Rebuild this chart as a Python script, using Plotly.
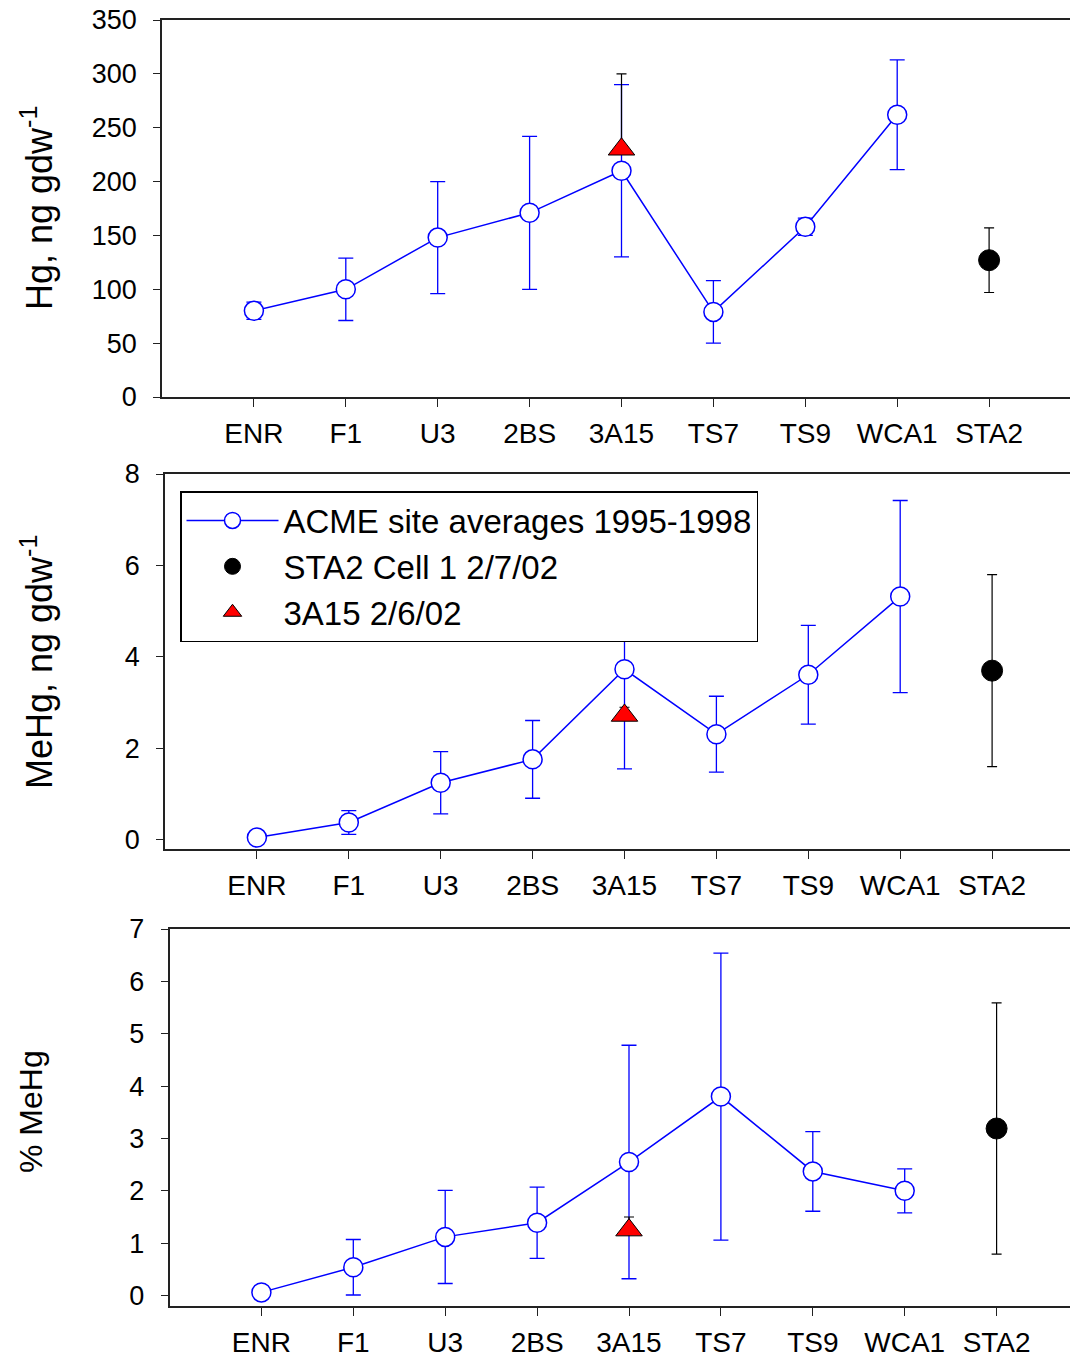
import plotly.graph_objects as go

# ---------------- data ----------------
sites = ["ENR", "F1", "U3", "2BS", "3A15", "TS7", "TS9", "WCA1", "STA2"]
acme_sites = sites[:8]

hg_acme = [80, 100, 148, 171, 210, 79, 158, 262]
hg_acme_err = [8, 29, 52, 71, 80, 29, 8, 51]
hg_sta2 = [127]
hg_sta2_err = [30]
hg_3a15 = [230]
hg_3a15_err_up = [70]

mehg_acme = [0.05, 0.38, 1.25, 1.76, 3.73, 2.31, 3.61, 5.32]
mehg_acme_err = [0.05, 0.26, 0.68, 0.85, 2.18, 0.83, 1.08, 2.10]
mehg_sta2 = [3.70]
mehg_sta2_err = [2.10]
mehg_3a15 = [2.72]
mehg_3a15_err_up = [0.18]

pct_acme = [0.06, 0.54, 1.12, 1.39, 2.55, 3.80, 2.37, 2.00]
pct_acme_err = [0.03, 0.53, 0.89, 0.68, 2.23, 2.74, 0.76, 0.42]
pct_sta2 = [3.19]
pct_sta2_err = [2.40]
pct_3a15 = [1.25]
pct_3a15_err_up = [0.25]

y_titles = ["Hg, ng gdw<sup>-1</sup>", "MeHg, ng gdw<sup>-1</sup>", "% MeHg"]
legend_names = ["ACME site averages 1995-1998", "STA2 Cell 1 2/7/02", "3A15 2/6/02"]

# ---------------- layout constants ----------------
W, H = 1078, 1360
OFF = 8  # page body margin offset compensation
FONT = "Liberation Sans, Arial, sans-serif"
BLUE = "#0000FF"

idx = {s: i + 1 for i, s in enumerate(sites)}
x_acme = [idx[s] for s in acme_sites]
x_sta2 = [idx["STA2"]]
x_3a15 = [idx["3A15"]]

panels = [
    dict(data=(hg_acme, hg_acme_err, hg_sta2, hg_sta2_err, hg_3a15, hg_3a15_err_up),
         left=162, top=20, bottom=397, yr=[0, 350], tickvals=list(range(0, 351, 50)),
         title_x=37, title_y=208, title_size=36),
    dict(data=(mehg_acme, mehg_acme_err, mehg_sta2, mehg_sta2_err, mehg_3a15, mehg_3a15_err_up),
         left=165, top=474, bottom=849, yr=[-0.2, 8], tickvals=[0, 2, 4, 6, 8],
         title_x=37, title_y=662, title_size=36),
    dict(data=(pct_acme, pct_acme_err, pct_sta2, pct_sta2_err, pct_3a15, pct_3a15_err_up),
         left=169.5, top=929, bottom=1306, yr=[-0.2, 7], tickvals=list(range(0, 8)),
         title_x=31, title_y=1112, title_size=32),
]
SPACING = 91.9

fig = go.Figure()
layout = dict(
    width=W, height=H,
    margin=dict(l=0, r=0, t=0, b=0, pad=0, autoexpand=False),
    paper_bgcolor="white", plot_bgcolor="white",
    font=dict(family=FONT, color="black"),
    showlegend=True,
    legend=dict(
        x=(180 - OFF) / W, y=1 - (491 - OFF) / H, xanchor="left", yanchor="top",
        bordercolor="black", borderwidth=1.5, bgcolor="white",
        font=dict(size=33, family=FONT, color="black"),
        itemwidth=92, tracegroupgap=0,
    ),
    annotations=[],
)

for k, p in enumerate(panels):
    n = "" if k == 0 else str(k + 1)
    xa, ya = "x" + n, "y" + n
    acme, acme_err, sta, sta_err, tri, tri_err_up = p["data"]
    left = p["left"] - OFF
    xr_max = (W - left) / SPACING
    show = (k == 1)

    fig.add_trace(go.Scatter(
        x=x_acme, y=acme, xaxis=xa, yaxis=ya, mode="lines+markers",
        name=legend_names[0], showlegend=show, legendrank=1,
        line=dict(color=BLUE, width=1.5),
        marker=dict(symbol="circle", size=19, color="white", line=dict(color=BLUE, width=1.5)),
        error_y=dict(type="data", array=acme_err, visible=True, color=BLUE, thickness=1.3, width=7.5),
    ))
    fig.add_trace(go.Scatter(
        x=x_sta2, y=sta, xaxis=xa, yaxis=ya, mode="markers",
        name=legend_names[1], showlegend=show, legendrank=2,
        marker=dict(symbol="circle", size=21, color="black", line=dict(color="black", width=1)),
        error_y=dict(type="data", array=sta_err, visible=True, color="black", thickness=1.2, width=5),
    ))
    fig.add_trace(go.Scatter(
        x=x_3a15, y=tri, xaxis=xa, yaxis=ya, mode="markers",
        name=legend_names[2], showlegend=show, legendrank=3,
        marker=dict(symbol="triangle-up", size=23, color="red", line=dict(color="black", width=1)),
        error_y=dict(type="data", symmetric=False, array=tri_err_up, arrayminus=[0],
                     visible=True, color="black", thickness=1.2, width=5),
    ))

    layout["xaxis" + n] = dict(
        domain=[left / W, 1], range=[0, xr_max], anchor=ya,
        tickmode="array", tickvals=list(range(1, len(sites) + 1)), ticktext=sites,
        ticks="outside", ticklen=8, tickwidth=1.2, tickcolor="#222",
        showline=True, linecolor="#222", linewidth=1.5, mirror=True,
        showgrid=False, zeroline=False, automargin=False,
        tickfont=dict(size=28, family=FONT, color="black"),
        ticklabelstandoff=3, ticklabeloverflow="allow",
    )
    layout["yaxis" + n] = dict(
        domain=[1 - (p["bottom"] - OFF) / H, 1 - (p["top"] - OFF) / H], range=p["yr"], anchor=xa,
        tickmode="array", tickvals=p["tickvals"],
        ticks="outside", ticklen=7, tickwidth=1.2, tickcolor="#222",
        showline=True, linecolor="#222", linewidth=1.5, mirror=False,
        showgrid=False, zeroline=False, automargin=False,
        tickfont=dict(size=27, family=FONT, color="black"),
        ticklabelstandoff=11, ticklabeloverflow="allow",
    )
    layout["annotations"].append(dict(
        text=y_titles[k], textangle=-90, xref="paper", yref="paper",
        x=(p["title_x"] - OFF) / W, y=1 - (p["title_y"] - OFF) / H, xanchor="center", yanchor="middle",
        showarrow=False, font=dict(size=p["title_size"], family=FONT, color="black"),
    ))

fig.update_layout(**layout)
fig.write_html("out.html")
